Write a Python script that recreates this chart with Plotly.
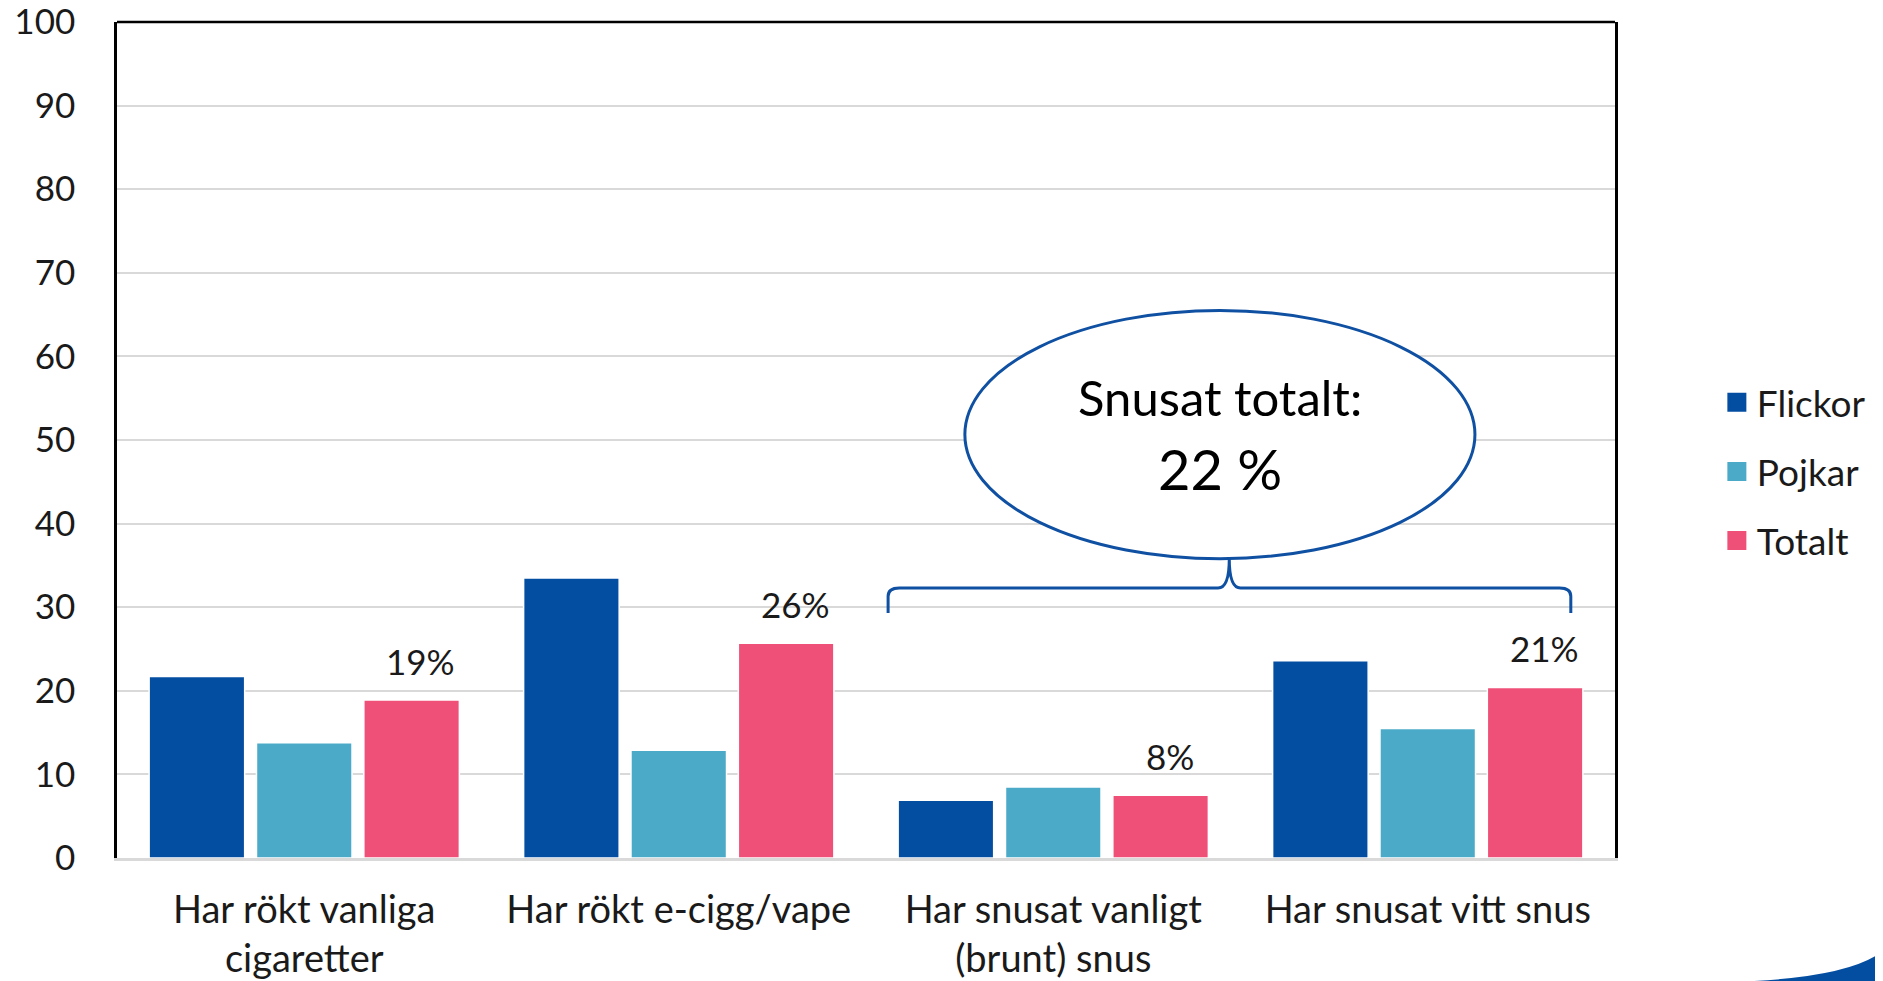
import plotly.graph_objects as go

categories = ["Har rökt vanliga<br>cigaretter", "Har rökt e-cigg/vape",
              "Har snusat vanligt<br>(brunt) snus", "Har snusat vitt snus"]
flickor = [21.7, 33.5, 6.9, 23.6]
pojkar = [13.8, 12.9, 8.5, 15.5]
totalt = [18.9, 25.7, 7.5, 20.4]
totalt_labels = ["19%", "26%", "8%", "21%"]
y_ticks = [0, 10, 20, 30, 40, 50, 60, 70, 80, 90, 100]
snus_text = "Snusat totalt:"
snus_value = "22 %"

C_F = "#044EA2"
C_P = "#4CAAC9"
C_T = "#EF5078"
C_LINE = "#0F50A2"
TXT = "#1a1a1a"
FONT = "Lato"

W, H = 1875, 973          # page body has an 8px margin
L, T, R, B = 109, 14, 263, 123

x = list(range(len(categories)))
BARGAP = 0.14
slot = (1 - BARGAP) / 3

fig = go.Figure()
for name, vals, col in [("Flickor", flickor, C_F), ("Pojkar", pojkar, C_P), ("Totalt", totalt, C_T)]:
    fig.add_trace(go.Bar(x=x, y=vals, name=name, legendgroup=name, showlegend=False,
                         marker=dict(color=col, line=dict(color="white", width=1.5))))
    # legend entry with a larger square swatch
    fig.add_trace(go.Scatter(x=[None], y=[None], mode="markers", name=name, legendgroup=name,
                             marker=dict(symbol="square", size=16, color=col,
                                         line=dict(color=col, width=3))))

for i, (v, t) in enumerate(zip(totalt, totalt_labels)):
    fig.add_annotation(x=i + slot, y=v, text=t, showarrow=False, yanchor="bottom",
                       yshift=16, xshift=9, font=dict(family=FONT, size=35, color=TXT))

# Ellipse callout and bracket (data coords)
fig.add_shape(type="circle", xref="x", yref="y", x0=1.764, x1=3.126, y0=35.8, y1=65.5,
              line=dict(color=C_LINE, width=3), fillcolor="white", layer="above")
fig.add_annotation(x=2.445, y=55.2, text=snus_text, showarrow=False,
                   font=dict(family=FONT, size=49, color="black"))
fig.add_annotation(x=2.445, y=46.6, text=snus_value, showarrow=False,
                   font=dict(family=FONT, size=56, color="black"))
bx0, bx1, bc = 1.559, 3.382, 2.47
ytop, ybot, ytip = 32.3, 29.3, 35.8
r = 0.03
path = (f"M {bx0},{ybot} L {bx0},{ytop-1.0} Q {bx0},{ytop} {bx0+r},{ytop} "
        f"L {bc-r},{ytop} Q {bc},{ytop} {bc},{ytip} Q {bc},{ytop} {bc+r},{ytop} "
        f"L {bx1-r},{ytop} Q {bx1},{ytop} {bx1},{ytop-1.0} L {bx1},{ybot}")
fig.add_shape(type="path", xref="x", yref="y", path=path, line=dict(color=C_LINE, width=3))

# top frame line
fig.add_shape(type="line", xref="paper", yref="paper", x0=0, x1=1, y0=1, y1=1,
              line=dict(color="black", width=2.5))

# decorative swoosh bottom-right (window pixel coords -> paper)
PW, PH = W - L - R, H - T - B
def px(vx): return (vx - 8 - L) / PW
def py(vy): return (H - B - (vy - 8)) / PH
sw = (f"M {px(1760)},{py(981)} Q {px(1850)},{py(976)} {px(1883)},{py(955)} "
      f"L {px(1883)},{py(981)} Z")
fig.add_shape(type="path", xref="paper", yref="paper", path=sw, fillcolor=C_F,
              line=dict(width=0))

fig.update_layout(
    width=W, height=H,
    margin=dict(l=L, r=R, t=T, b=B),
    plot_bgcolor="white", paper_bgcolor="white",
    barmode="group", bargap=BARGAP, bargroupgap=0.11,
    font=dict(family=FONT, color=TXT),
    showlegend=True,
    legend=dict(x=1.068, xanchor="left", y=0.462, yanchor="middle",
                font=dict(family=FONT, size=37, color=TXT),
                traceorder="grouped", tracegroupgap=18, itemwidth=30),
    xaxis=dict(range=[-0.5, 3.5], tickmode="array", tickvals=x, ticktext=categories,
               showgrid=False, zeroline=False, showline=True, linecolor="#d9d9d9",
               linewidth=3, ticks="", tickfont=dict(family=FONT, size=38, color=TXT),
               ticklabelstandoff=16, automargin=False, ticklabeloverflow="allow"),
    yaxis=dict(range=[0, 100], tickmode="array", tickvals=y_ticks,
               showgrid=True, gridcolor="#d9d9d9", gridwidth=2, zeroline=False,
               showline=True, linecolor="black", linewidth=2.5, mirror=True,
               ticks="", tickfont=dict(family=FONT, size=35, color=TXT),
               ticklabelstandoff=32, automargin=False, ticklabeloverflow="allow"),
)

fig.write_html("out.html")
